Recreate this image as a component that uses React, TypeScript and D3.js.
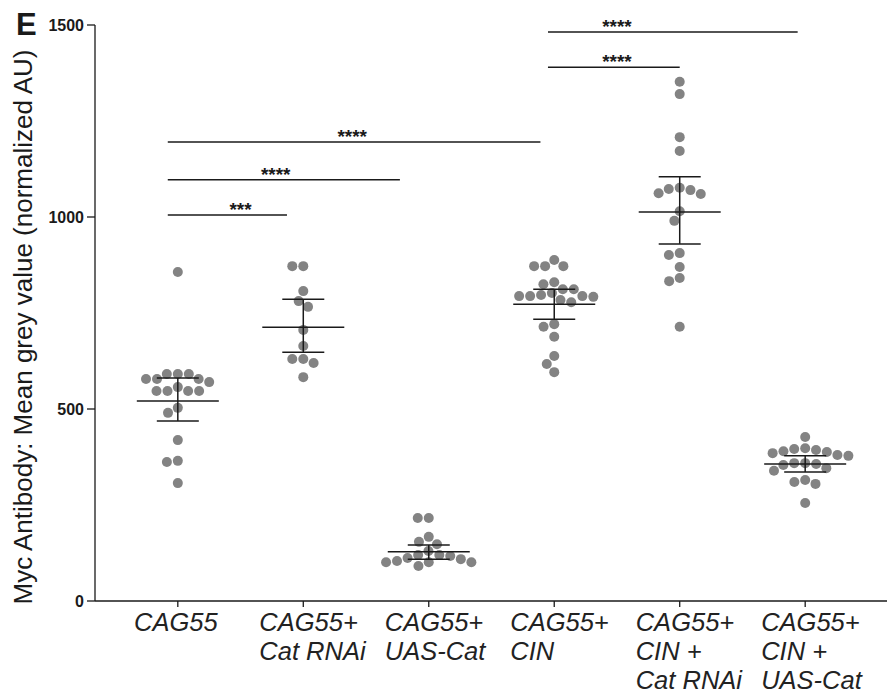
import React from "react";
import * as d3 from "d3";

const categories = [
  ["CAG55"],
  ["CAG55+", "Cat RNAi"],
  ["CAG55+", "UAS-Cat"],
  ["CAG55+", "CIN"],
  ["CAG55+", "CIN +", "Cat RNAi"],
  ["CAG55+", "CIN +", "UAS-Cat"],
];

const cag55 = [857, 591, 591, 591, 578, 578, 578, 570, 557, 547, 547, 547, 547, 503, 490, 419, 365, 362, 307];
const cag55CatRNAi = [872, 872, 807, 781, 766, 706, 664, 630, 630, 620, 583];
const cag55UASCat = [216, 216, 167, 154, 148, 130, 120, 120, 117, 112, 109, 104, 101, 101, 101, 91];
const cag55CIN = [888, 872, 872, 872, 830, 825, 812, 812, 802, 797, 794, 794, 794, 792, 784, 778, 721, 714, 688, 638, 617, 596];
const cinCatRNAi = [1352, 1320, 1208, 1172, 1076, 1073, 1070, 1062, 1060, 1015, 990, 906, 901, 870, 841, 833, 714];
const cinUASCat = [427, 398, 396, 393, 390, 388, 385, 380, 378, 359, 359, 357, 354, 346, 339, 315, 310, 305, 255];

const seriesValues = [cag55, cag55CatRNAi, cag55UASCat, cag55CIN, cinCatRNAi, cinUASCat];

const means = [521, 713, 128, 773, 1013, 357];
const errLow = [469, 648, 109, 734, 930, 336];
const errHigh = [581, 786, 146, 812, 1105, 378];

const yTicks = [0, 500, 1000, 1500];

// significance bars: start / end (in group-index units), level, label, label position (group units)
const sigFrom = [-0.08, -0.08, -0.08, 2.95, 2.95];
const sigTo = [0.87, 1.77, 2.89, 4.0, 4.94];
const sigLevel = [1005, 1097, 1195, 1390, 1482];
const sigLabel = ["***", "****", "****", "****", "****"];
const sigLabelPos = [0.5, 0.78, 1.39, 3.5, 3.5];

const W = 887;
const H = 695;
const R = 5;
const D = 11;

function swarm(values: number[], y: (v: number) => number): number[] {
  const order = values.map((_, i) => i).sort((a, b) => values[b] - values[a]);
  const placed: { x: number; y: number }[] = [];
  const xs: number[] = new Array(values.length).fill(0);
  for (const i of order) {
    const py = y(values[i]);
    const cands = [0];
    for (const p of placed) {
      const dy = Math.abs(p.y - py);
      if (dy < D) {
        const dx = Math.sqrt(D * D - dy * dy);
        cands.push(p.x + dx, p.x - dx);
      }
    }
    cands.sort((a, b) => Math.abs(a) - Math.abs(b) || a - b);
    let best = 0;
    for (const c of cands) {
      let ok = true;
      for (const p of placed) {
        if ((p.x - c) ** 2 + (p.y - py) ** 2 < D * D - 0.01) { ok = false; break; }
      }
      if (ok) { best = c; break; }
    }
    placed.push({ x: best, y: py });
    xs[i] = best;
  }
  return xs;
}

export default function App() {
  const x = d3.scalePoint<number>().domain(d3.range(categories.length)).range([95, 888]).padding(0.66);
  const y = d3.scaleLinear().domain([0, 1500]).range([601, 25]);
  const step = x.step();
  const gx = (p: number) => (x(0) as number) + p * step;
  const font = "'Liberation Sans', Arial, sans-serif";
  const ink = "#1a1a1a";

  return (
    <svg width={W} height={H} style={{ position: "absolute", left: 0, top: 0, background: "#fff" }} fontFamily={font}>
      <rect width={W} height={H} fill="#fff" />
      <text x={16} y={35} fontSize={31} fontWeight="bold" fill={ink}>E</text>
      {/* y axis */}
      <line x1={95} x2={95} y1={y(1500)} y2={y(0)} stroke={ink} strokeWidth={1.3} />
      {yTicks.map((t) => (
        <g key={t}>
          <line x1={87} x2={95} y1={y(t)} y2={y(t)} stroke={ink} strokeWidth={1.3} />
          <text x={84} y={y(t)} dy="0.36em" textAnchor="end" fontSize={16} fontWeight="bold" fill={ink}>{t}</text>
        </g>
      ))}
      <text transform={`translate(32,327) rotate(-90)`} textAnchor="middle" fontSize={26} fill={ink}>
        Myc Antibody: Mean grey value (normalized AU)
      </text>
      {/* x axis */}
      <line x1={95} x2={888} y1={y(0)} y2={y(0)} stroke={ink} strokeWidth={1.3} />
      {categories.map((lines, i) => {
        const cx = x(i) as number;
        return (
          <g key={i}>
            <line x1={cx} x2={cx} y1={y(0)} y2={y(0) + 6} stroke={ink} strokeWidth={1.3} />
            {lines.map((l, j) => (
              <text key={j} x={lines.length === 1 ? cx - 2 : cx - 44} y={631 + j * 29} textAnchor={lines.length === 1 ? "middle" : "start"} fontSize={25.5} fontStyle="italic" fill="#222">{l}</text>
            ))}
          </g>
        );
      })}
      {/* dots */}
      {seriesValues.map((vals, i) => {
        const cx = x(i) as number;
        const offs = swarm(vals, (v) => y(v));
        return (
          <g key={i}>
            {vals.map((v, j) => (
              <circle key={j} cx={cx + offs[j]} cy={y(v)} r={R} fill="#838383" />
            ))}
          </g>
        );
      })}
      {/* mean and error bars */}
      {means.map((m, i) => {
        const cx = x(i) as number;
        return (
          <g key={i} stroke={ink} strokeWidth={1.5}>
            <line x1={cx - 41} x2={cx + 41} y1={y(m)} y2={y(m)} />
            <line x1={cx} x2={cx} y1={y(errLow[i])} y2={y(errHigh[i])} />
            <line x1={cx - 21} x2={cx + 21} y1={y(errLow[i])} y2={y(errLow[i])} />
            <line x1={cx - 21} x2={cx + 21} y1={y(errHigh[i])} y2={y(errHigh[i])} />
          </g>
        );
      })}
      {/* significance bars */}
      {sigFrom.map((f, i) => (
        <g key={i}>
          <line x1={gx(f)} x2={gx(sigTo[i])} y1={y(sigLevel[i])} y2={y(sigLevel[i])} stroke={ink} strokeWidth={1.5} />
          <text x={gx(sigLabelPos[i])} y={y(sigLevel[i]) + 1} textAnchor="middle" fontSize={19} fontWeight="bold" fill={ink}>{sigLabel[i]}</text>
        </g>
      ))}
    </svg>
  );
}
